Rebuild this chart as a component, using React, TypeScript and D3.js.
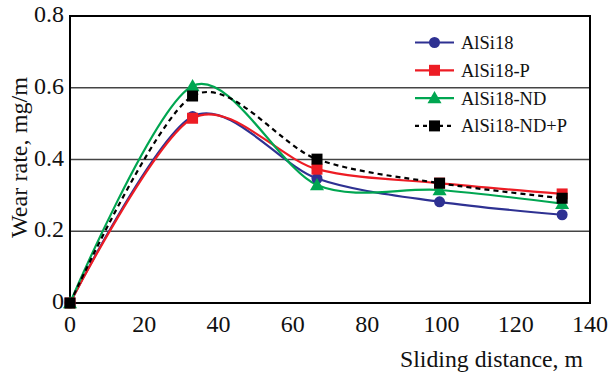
import React from "react";
import * as d3 from "d3";

const distance = [0, 33, 66.5, 99.5, 132.5];
const alsi18 = [0, 0.52, 0.347, 0.282, 0.246];
const alsi18P = [0, 0.515, 0.373, 0.334, 0.304];
const alsi18ND = [0, 0.605, 0.329, 0.315, 0.277];
const alsi18NDP = [0, 0.577, 0.401, 0.334, 0.292];
const xTicks = [0, 20, 40, 60, 80, 100, 120, 140];
const yTicks = [0, 0.2, 0.4, 0.6, 0.8];
const yTickLabels = ["0", "0.2", "0.4", "0.6", "0.8"];
const seriesNames = ["AlSi18", "AlSi18-P", "AlSi18-ND", "AlSi18-ND+P"];

const W = 612, H = 376;
const L = 70, R = 590, T = 16, B = 303;

const series = [
  { name: seriesNames[0], values: alsi18, color: "#2E3192", marker: "circle", dash: null },
  { name: seriesNames[1], values: alsi18P, color: "#ED1C24", marker: "square", dash: null },
  { name: seriesNames[2], values: alsi18ND, color: "#00A651", marker: "triangle", dash: null },
  { name: seriesNames[3], values: alsi18NDP, color: "#000000", marker: "square", dash: "5,4" },
];

function Marker({ type, x, y, color }: { type: string; x: number; y: number; color: string }) {
  if (type === "circle") return <circle cx={x} cy={y} r={5.5} fill={color} />;
  if (type === "square") return <rect x={x - 5.5} y={y - 5.5} width={11} height={11} fill={color} />;
  const s = 7;
  return <path d={`M${x},${y - s} L${x + s},${y + s * 0.75} L${x - s},${y + s * 0.75}Z`} fill={color} />;
}

export default function App() {
  const x = d3.scaleLinear().domain([0, 140]).range([L, R]);
  const y = d3.scaleLinear().domain([0, 0.8]).range([B, T]);
  const line = d3
    .line<number>()
    .x((_, i) => x(distance[i]))
    .y((d) => y(d))
    .curve(d3.curveCardinal.tension(0.1));
  const fs = { fontFamily: '"Liberation Serif"' };
  const legendY = (i: number) => 42.5 + i * 27.8;

  return (
    <div style={{ position: "absolute", left: 0, top: 0 }}>
      <svg width={W} height={H} style={{ display: "block", background: "#fff" }}>
        <rect width={W} height={H} fill="#fff" />
        {yTicks.slice(1, 4).map((t) => (
          <line key={t} x1={L} x2={R} y1={y(t)} y2={y(t)} stroke="#444" strokeWidth={1.5} />
        ))}
        <rect x={L} y={T} width={R - L} height={B - T} fill="none" stroke="#000" strokeWidth={2} />
        {yTicks.map((t, i) => (
          <text key={t} x={L - 6} y={y(t) + 6} textAnchor="end" fontSize={24} fill="#111" style={fs}>
            {yTickLabels[i]}
          </text>
        ))}
        {xTicks.map((t) => (
          <text key={t} x={x(t)} y={332} textAnchor="middle" fontSize={24} fill="#111" style={fs}>
            {t}
          </text>
        ))}
        <text x={400} y={367} fontSize={23.5} fill="#111" textLength={183} lengthAdjust="spacingAndGlyphs" style={fs}>
          Sliding distance, m
        </text>
        <text
          transform={`translate(27,157.5) rotate(-90)`}
          textAnchor="middle"
          fontSize={23.5}
          fill="#111"
          textLength={161}
          lengthAdjust="spacingAndGlyphs"
          style={fs}
        >
          Wear rate, mg/m
        </text>
        {series.map((s) => (
          <g key={s.name}>
            <path
              d={line(s.values) || ""}
              fill="none"
              stroke={s.color}
              strokeWidth={2.2}
              strokeDasharray={s.dash || undefined}
            />
          </g>
        ))}
        {series.map((s) => (
          <g key={s.name + "m"}>
            {s.values.map((v, i) => (
              <Marker key={i} type={s.marker} x={x(distance[i])} y={y(v)} color={s.color} />
            ))}
          </g>
        ))}
        {series.map((s, i) => (
          <g key={s.name + "l"}>
            <line
              x1={415}
              x2={454}
              y1={legendY(i)}
              y2={legendY(i)}
              stroke={s.color}
              strokeWidth={2.2}
              strokeDasharray={s.dash ? "4,4" : undefined}
            />
            <Marker type={s.marker} x={434.5} y={legendY(i)} color={s.color} />
            <text x={461} y={legendY(i) + 6.5} fontSize={18.5} fill="#111" style={fs}>
              {s.name}
            </text>
          </g>
        ))}
      </svg>
    </div>
  );
}
